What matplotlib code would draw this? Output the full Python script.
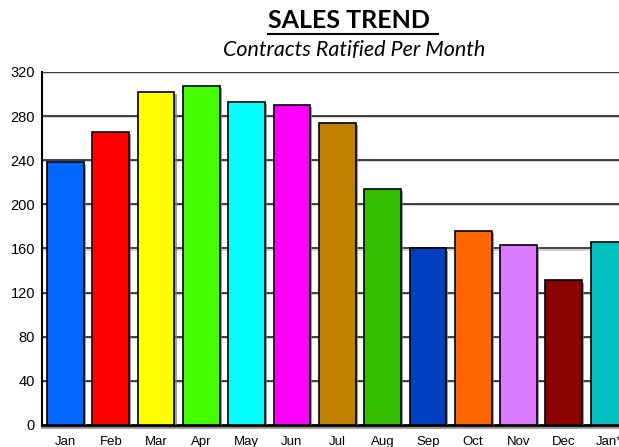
import matplotlib
matplotlib.use('Agg')
import matplotlib.pyplot as plt
import matplotlib.patheffects as pe
import numpy as np

months = ['Jan', 'Feb', 'Mar', 'Apr', 'May', 'Jun', 'Jul', 'Aug', 'Sep', 'Oct', 'Nov', 'Dec', 'Jan*']
contracts = [238, 266, 302, 307, 293, 290, 274, 214, 160, 176, 163, 131, 166]
colors = ['#0066FF', '#FF0000', '#FFFF00', '#44FF00', '#00FFFF', '#FF00FF', '#C08000',
          '#33BF00', '#0040C0', '#FF6600', '#DA7BFF', '#8B0000', '#00C0C0']
yticks = [0, 40, 80, 120, 160, 200, 240, 280, 320]

fig = plt.figure(figsize=(6.19, 4.47), dpi=100)
ax = fig.add_axes([42 / 619, 22 / 447, 1 - 42 / 619, 353 / 447])

x = np.arange(len(months))
shadow = [pe.SimplePatchShadow(offset=(1.5, -1.5), shadow_rgbFace='#777777', alpha=0.7), pe.Normal()]
bars = ax.bar(x, contracts, width=0.81, color=colors, edgecolor='black', linewidth=1.2, zorder=3)
for b in bars:
    b.set_path_effects(shadow)

ax.set_ylim(0, 320)
ax.set_xlim(-0.52, 12.22)
ax.set_yticks(yticks)
for t in yticks[1:]:
    ax.axhline(t, color='#222222', linewidth=1.2, zorder=1,
               path_effects=[pe.SimpleLineShadow(offset=(0, -0.8), shadow_color='#aaaaaa', alpha=0.6), pe.Normal()])

ax.set_xticks(x)
ax.set_xticklabels(months, fontsize=9.5, family='Liberation Sans')
ax.tick_params(axis='x', length=0, pad=8)
ax.tick_params(axis='y', length=0, pad=5, labelsize=10.5)
for lab in ax.get_yticklabels():
    lab.set_family('Liberation Sans')

for s in ['top', 'right']:
    ax.spines[s].set_visible(False)
ax.spines['left'].set_linewidth(1.5)
ax.spines['bottom'].set_linewidth(2)
ax.spines['bottom'].set_path_effects([pe.SimpleLineShadow(offset=(0, -1.5), shadow_color='#888888', alpha=0.9), pe.Normal()])

t = fig.text(268 / 619, 1 - 21 / 447, 'SALES TREND', ha='left', va='center',
             fontsize=18, fontweight='bold', family='Lato')
fig.canvas.draw()
bb = t.get_window_extent()
fig.add_artist(plt.Line2D([bb.x0 / 619, 438 / 619], [(bb.y0 - 1) / 447, (bb.y0 - 1) / 447],
                          color='black', linewidth=1.5))
fig.text(354 / 619, 1 - 50 / 447, 'Contracts Ratified Per Month', ha='center', va='center',
         fontsize=15.5, style='italic', family='Lato')

fig.savefig('out.png', dpi=100)
